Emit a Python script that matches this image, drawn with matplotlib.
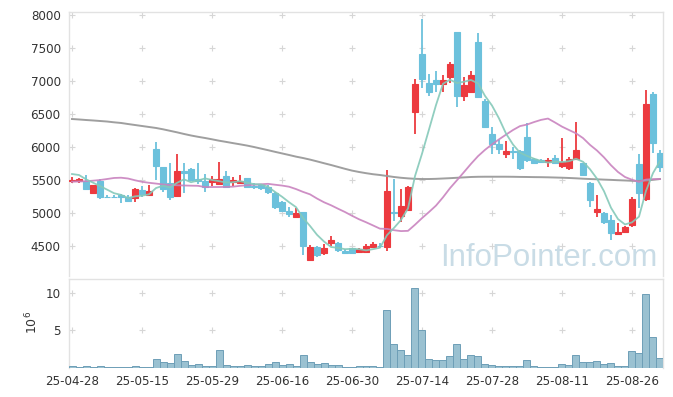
import numpy as np
import pandas as pd
import matplotlib
matplotlib.use('Agg')
import matplotlib.pyplot as plt

# ---------------- data ----------------
holidays = ['2025-05-01', '2025-05-05', '2025-05-06', '2025-06-03', '2025-06-06', '2025-08-15']
dates = pd.bdate_range('2025-04-28', '2025-09-01', freq='C', holidays=holidays)

opens = [5480, 5485, 5480, 5295, 5480, 5240, 5240, 5267, 5243, 5227,
         5345, 5270, 5966, 5697, 5450, 5253, 5632, 5663, 5515, 5485,
         5470, 5440, 5556, 5470, 5455, 5520, 5410, 5415, 5395, 5303,
         5166, 5030, 4940, 5010, 4285, 4484, 4392, 4535, 4545, 4423,
         4458, 4407, 4407, 4484, 4500, 4484, 5010, 4953, 5040, 6530,
         7408, 6963, 7013, 6953, 7063, 7737, 6775, 6836, 7585, 6695,
         6194, 6042, 5890, 5935, 5940, 6143, 5819, 5800, 5764, 5834,
         5710, 5673, 5810, 5750, 5445, 5015, 5000, 4888, 4671, 4710,
         4812, 5740, 5200, 6801, 5900]
highs = [5540, 5520, 5570, 5425, 5510, 5270, 5265, 5290, 5270, 5380,
         5400, 5420, 6070, 5700, 5758, 5890, 5750, 5670, 5758, 5582,
         5550, 5764, 5630, 5540, 5570, 5525, 5450, 5430, 5420, 5310,
         5170, 5090, 5075, 5015, 4510, 4500, 4530, 4640, 4550, 4450,
         4460, 4460, 4530, 4560, 4545, 5647, 5506, 5354, 5410, 7024,
         7935, 7100, 7150, 7090, 7290, 7740, 7063, 7150, 7722, 6720,
         6305, 6100, 6088, 6000, 5950, 6366, 5830, 5810, 5830, 5880,
         6128, 5840, 6371, 5760, 5460, 5267, 5010, 4960, 4850, 4800,
         5230, 5890, 6862, 6830, 5950]
lows = [5450, 5450, 5340, 5285, 5200, 5220, 5225, 5150, 5170, 5160,
        5230, 5265, 5490, 5320, 5190, 5250, 5294, 5490, 5440, 5308,
        5400, 5435, 5390, 5400, 5430, 5370, 5360, 5350, 5290, 5060,
        5015, 4935, 4935, 4357, 4280, 4320, 4360, 4500, 4395, 4380,
        4380, 4390, 4390, 4480, 4460, 4417, 4873, 4862, 5035, 6190,
        6887, 6775, 6836, 6836, 6963, 6608, 6695, 6836, 6760, 6305,
        5886, 5886, 5824, 5813, 5640, 5773, 5740, 5750, 5700, 5740,
        5673, 5650, 5810, 5550, 5081, 4940, 4830, 4590, 4660, 4700,
        4780, 5066, 5180, 5900, 5620]
closes = [5500, 5505, 5360, 5420, 5233, 5230, 5232, 5233, 5180, 5360,
          5283, 5330, 5713, 5354, 5230, 5632, 5597, 5495, 5480, 5394,
          5510, 5510, 5395, 5495, 5480, 5395, 5395, 5375, 5318, 5090,
          5030, 4980, 5000, 4498, 4484, 4357, 4468, 4585, 4433, 4383,
          4383, 4443, 4494, 4524, 4494, 5333, 4995, 5100, 5394, 6950,
          7030, 6836, 6953, 7013, 7256, 6775, 6937, 7085, 6760, 6305,
          6042, 5961, 5936, 5925, 5682, 5800, 5750, 5764, 5800, 5758,
          5770, 5810, 5951, 5571, 5192, 5051, 4862, 4695, 4710, 4786,
          5208, 5294, 6650, 6062, 5697]
volume_mil = [0.30, 0.13, 0.26, 0.13, 0.26, 0.13, 0.13, 0.13, 0.13, 0.26,
              0.13, 0.13, 1.17, 0.78, 0.65, 1.83, 0.96, 0.39, 0.52, 0.26,
              0.26, 2.48, 0.39, 0.26, 0.26, 0.39, 0.26, 0.26, 0.61, 0.78,
              0.39, 0.52, 0.26, 1.70, 0.78, 0.52, 0.65, 0.39, 0.39, 0.13,
              0.13, 0.26, 0.26, 0.26, 0.13, 7.70, 3.18, 2.39, 1.74, 10.57,
              5.09, 1.17, 1.04, 1.04, 1.57, 3.18, 1.17, 1.70, 1.57, 0.52,
              0.39, 0.26, 0.26, 0.26, 0.26, 1.04, 0.26, 0.13, 0.13, 0.13,
              0.52, 0.39, 1.70, 0.78, 0.78, 0.91, 0.52, 0.65, 0.26, 0.26,
              2.35, 1.96, 9.79, 4.18, 1.30]

# moving-average values before enough closes are visible
ma5_lead = [5586, 5571, 5506, 5455]
ma20_lead = [5470, 5473, 5477, 5485, 5495, 5510, 5526, 5530, 5518, 5491,
             5468, 5453, 5441, 5428, 5419, 5415, 5412, 5409, 5407]
ma60_line = [6421, 6414, 6406, 6399, 6391, 6383, 6371, 6361, 6345, 6330,
             6315, 6300, 6285, 6265, 6242, 6219, 6194, 6171, 6151, 6133,
             6113, 6092, 6074, 6055, 6037, 6018, 5996, 5972, 5948, 5923,
             5899, 5875, 5850, 5829, 5805, 5778, 5750, 5723, 5694, 5665,
             5638, 5617, 5599, 5583, 5571, 5556, 5541, 5529, 5520, 5513,
             5510, 5510, 5513, 5518, 5523, 5529, 5535, 5541, 5544, 5545,
             5545, 5545, 5545, 5544, 5542, 5541, 5539, 5538, 5536, 5533,
             5530, 5526, 5521, 5515, 5510, 5506, 5501, 5497, 5492, 5488,
             5483, 5480, 5488, 5498, 5510]

price_ticks = [4500, 5000, 5500, 6000, 6500, 7000, 7500, 8000]
vol_ticks = [5, 10]

# ---------------- derived ----------------
o = np.array(opens, float); h = np.array(highs, float)
l = np.array(lows, float); c = np.array(closes, float)
x = np.arange(len(dates))
cs = pd.Series(c)
ma5 = cs.rolling(5).mean().to_numpy()
ma5[:len(ma5_lead)] = ma5_lead
ma20 = cs.rolling(20).mean().to_numpy()
ma20[:len(ma20_lead)] = ma20_lead
ma60 = np.array(ma60_line, float)

tick_idx = x[::10]
tick_lab = [d.strftime('%y-%m-%d') for d in dates[::10]]

RED = '#ec3a3f'
BLUE = '#6cc1dc'
GRID = '#d6d6d6'
SPINE = '#e2e2e2'
TXT = '#333333'

W, H = 673, 397
fig = plt.figure(figsize=(W / 100, H / 100), dpi=100)

def px_axes(left, top, right, bottom):
    return fig.add_axes([left / W, 1 - bottom / H, (right - left) / W, (bottom - top) / H])

ax = px_axes(69, 11.7, 663, 276)
axv = px_axes(69, 279.3, 663, 368.3)

xlim = (-0.43, len(x) - 1 + 0.43)

# candles
up = c >= o
colors = np.where(up, RED, BLUE)
ax.vlines(x, l, h, colors=colors, linewidth=1.3, zorder=2)
ax.bar(x, np.abs(c - o), bottom=np.minimum(o, c), width=0.72, color=colors,
       edgecolor=colors, linewidth=0.8, zorder=3)

# moving averages
ax.plot(x, ma60, color='#9a9a9a', lw=1.4, alpha=0.95, zorder=4)
ax.plot(x, ma20, color='#c983bf', lw=1.3, alpha=0.9, zorder=4)
ax.plot(x, ma5, color='#85c9b9', lw=1.3, alpha=0.9, zorder=4)

ax.set_xlim(*xlim)
ax.set_ylim(8050, 4038)
ax.invert_yaxis()
ax.set_ylim(4038, 8050)
ax.set_yticks(price_ticks)
ax.set_yticklabels([str(t) for t in price_ticks])
ax.set_xticks([])

# grid crosses
gx, gy = np.meshgrid(tick_idx, price_ticks)
ax.scatter(gx.ravel(), gy.ravel(), marker='+', s=22, color=GRID, linewidths=0.8, zorder=1)

# watermark
fig.text(657 / W, 1 - 266.5 / H, 'InfoPointer.com', ha='right', va='baseline',
         fontsize=22.5, family='Liberation Sans', color='#c9dce6', zorder=10)

# volume
axv.bar(x, volume_mil, width=1.0, color='#9ac1d1', edgecolor='#6e9fb7', linewidth=0.7, zorder=3)
axv.set_xlim(*xlim)
axv.set_ylim(0, 11.75)
axv.set_yticks(vol_ticks)
axv.set_yticklabels([str(t) for t in vol_ticks])
axv.set_xticks(tick_idx)
axv.set_xticklabels(tick_lab)
vx, vy = np.meshgrid(tick_idx, vol_ticks)
axv.scatter(vx.ravel(), vy.ravel(), marker='+', s=22, color=GRID, linewidths=0.8, zorder=1)
fig.text(32.5 / W, 1 - 322 / H, r'$10^{6}$', rotation=90, ha='center', va='center',
         fontsize=9, color=TXT)

for a in (ax, axv):
    for s in ('left', 'top', 'right'):
        a.spines[s].set_color(SPINE)
        a.spines[s].set_linewidth(1.0)
    a.spines['bottom'].set_visible(False)
    a.tick_params(length=0, pad=6, labelsize=8.6, labelcolor=TXT)
    a.set_facecolor('white')
axv.tick_params(axis='x', pad=4.5)

fig.savefig('out.png', dpi=100, facecolor='white')
